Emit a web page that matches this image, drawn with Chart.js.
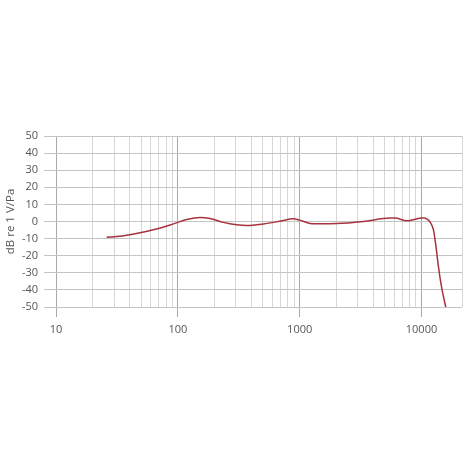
<!DOCTYPE html>
<html>
<head>
<meta charset="utf-8">
<script src="https://cdn.jsdelivr.net/npm/chart.js@4"></script>
<style>
  html, body { margin: 0; padding: 0; background: #fff; }
  #wrap { width: 465px; height: 465px; }
</style>
</head>
<body>
<div id="wrap"><canvas id="chart" width="465" height="465"></canvas></div>
<script>
// frequency response
const freqs = [26, 30, 36, 49, 67, 92, 118, 152, 184, 236, 304, 368, 504, 690, 887, 1000, 1216, 1500, 2018, 3337, 5523, 6070, 7570, 8500, 10000, 10500, 11000, 11780, 12540, 13100, 13610, 14220, 14850, 15820];
const levels = [-9.2, -8.9, -8.3, -6.6, -4.4, -1.4, 1.2, 2.4, 1.8, -0.5, -1.9, -2.3, -1.4, 0.2, 1.6, 0.8, -1.1, -1.3, -1.2, 0, 2.0, 2.0, 0.4, 1.0, 2.0, 2.1, 1.6, -0.4, -4.9, -13.7, -23.5, -33.3, -41, -50];

const xMajor = [10, 100, 1000, 10000];
const xGrid = [10, 20, 30, 40, 50, 60, 70, 80, 90,
    100, 200, 300, 400, 500, 600, 700, 800, 900,
    1000, 2000, 3000, 4000, 5000, 6000, 7000, 8000, 9000,
    10000, 21500];
const yTitle = 'dB re 1 V/Pa';

const FONT = { family: 'Open Sans', size: 11 };
const TEXT = '#555555';

new Chart(document.getElementById('chart'), {
    type: 'scatter',
    data: {
        datasets: [{
            data: freqs.map(function (f, i) { return { x: f, y: levels[i] }; }),
            showLine: true,
            borderColor: '#a8323f',
            borderWidth: 1.5,
            pointRadius: 0,
            cubicInterpolationMode: 'monotone',
        }],
    },
    options: {
        responsive: false,
        animation: false,
        layout: { padding: { top: 136, right: 3, left: 0, bottom: 0 } },
        plugins: { legend: { display: false }, tooltip: { enabled: false } },
        scales: {
            x: {
                type: 'logarithmic',
                min: 10,
                max: 21500,
                afterBuildTicks: function (scale) {
                    scale.ticks = xGrid.map(function (v) { return { value: v, major: xMajor.includes(v) }; });
                },
                afterFit: function (scale) {
                    scale.height = 158;
                    scale.paddingLeft = 0;
                    scale.paddingRight = 0;
                },
                ticks: {
                    autoSkip: false,
                    maxRotation: 0,
                    padding: 6,
                    color: TEXT,
                    font: FONT,
                    callback: function (v) { return xMajor.includes(v) ? String(v) : ''; },
                },
                grid: {
                    color: function (ctx) { return ctx.tick && ctx.tick.major ? '#a8a8a8' : '#d6d6d6'; },
                    tickColor: function (ctx) { return ctx.tick && ctx.tick.major ? '#a8a8a8' : 'rgba(0,0,0,0)'; },
                    tickLength: 10,
                    lineWidth: 1,
                },
                border: { display: false },
            },
            y: {
                min: -50,
                max: 50,
                afterFit: function (scale) { scale.width = 56; },
                ticks: { stepSize: 10, padding: 6, color: TEXT, font: FONT },
                grid: { color: '#c4c4c4', tickColor: '#c4c4c4', tickLength: 12, lineWidth: 1 },
                border: { display: false },
                title: { display: true, text: yTitle, color: TEXT, font: { family: 'Open Sans', size: 11.5 }, padding: { top: 4, bottom: 0 } },
            },
        },
    },
});
</script>
</body>
</html>
